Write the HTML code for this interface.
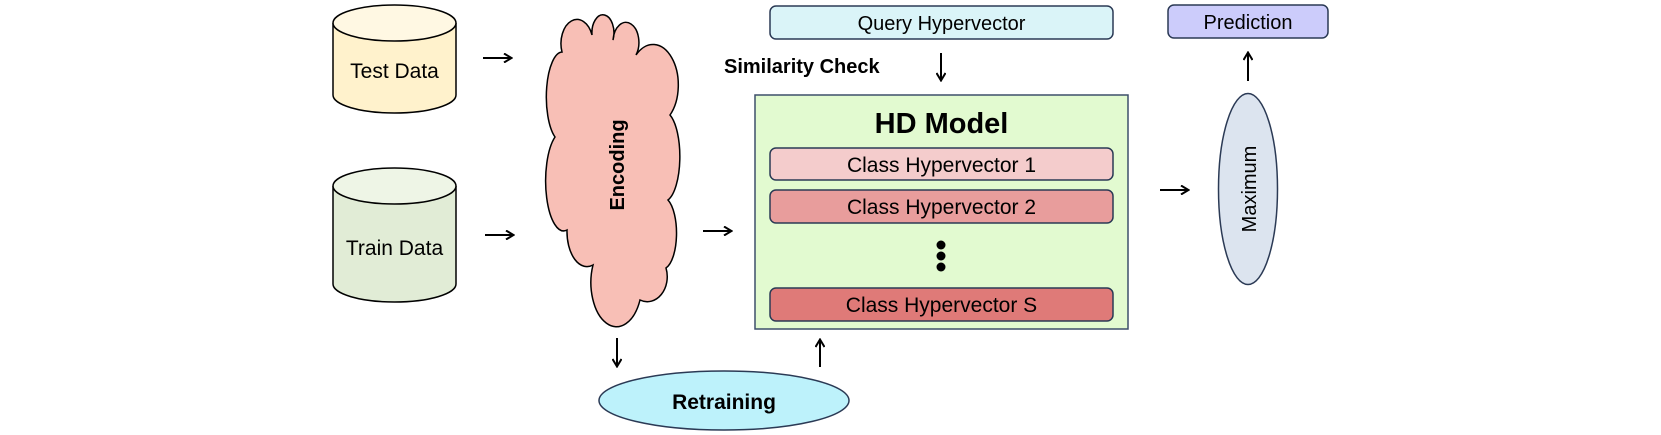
<!DOCTYPE html>
<html><head><meta charset="utf-8"><style>
html,body{margin:0;padding:0;background:#fff;}
svg{display:block;}
text{font-family:"Liberation Sans",Arial,sans-serif;}
</style></head><body>
<svg width="1661" height="435" viewBox="0 0 1661 435" xmlns="http://www.w3.org/2000/svg">
<defs>
<marker id="ah" markerWidth="10" markerHeight="10" refX="8" refY="5" orient="auto" markerUnits="userSpaceOnUse">
<path d="M1,0.5 L8.5,5 L1,9.5" fill="none" stroke="#000" stroke-width="2"/>
</marker>
</defs>
<path d="M333,23 L333,95 A61.5,18 0 0 0 456,95 L456,23" fill="#fff2cc" stroke="#000" stroke-width="1.5"/>
<ellipse cx="394.5" cy="23" rx="61.5" ry="18" fill="#fff8e3" stroke="#000" stroke-width="1.5"/>
<text x="394.5" y="78" font-size="21" text-anchor="middle">Test Data</text>
<path d="M333,186 L333,284 A61.5,18 0 0 0 456,284 L456,186" fill="#e1ecd6" stroke="#000" stroke-width="1.5"/>
<ellipse cx="394.5" cy="186" rx="61.5" ry="18" fill="#eef5e6" stroke="#000" stroke-width="1.5"/>
<text x="394.5" y="255" font-size="21" text-anchor="middle">Train Data</text>
<g stroke="#000" stroke-width="2" fill="none" marker-end="url(#ah)">
<line x1="483" y1="58" x2="511" y2="58"/>
<line x1="485" y1="235" x2="513" y2="235"/>
<line x1="703" y1="231" x2="731" y2="231"/>
<line x1="941" y1="53" x2="941" y2="80"/>
<line x1="617" y1="338" x2="617" y2="366"/>
<line x1="820" y1="367" x2="820" y2="340"/>
<line x1="1160" y1="190" x2="1188" y2="190"/>
<line x1="1248" y1="81" x2="1248" y2="53"/>
</g>
<path d="M562,52 A16 24 0 1 1 592,35 A11 18 0 1 1 613,40 A13 20 0 1 1 636,55 A25 40 0 0 1 670,115 A16 45 0 0 1 668,200 A14 36 0 0 1 666,268 A20 25 0 0 1 640,300 A22 38 0 1 1 593,265 A20 35 0 0 1 567,230 A18 50 0 0 1 555,137 A16 45 0 0 1 562,52 Z" fill="#f8bfb6" stroke="#000" stroke-width="1.5"/>
<text transform="translate(624,165) rotate(-90)" font-size="20" font-weight="bold" text-anchor="middle">Encoding</text>
<rect x="770" y="6" width="343" height="33" rx="6" fill="#daf4f8" stroke="#2b3a55" stroke-width="1.5"/>
<text x="941.5" y="30" font-size="20" text-anchor="middle">Query Hypervector</text>
<text x="724" y="73" font-size="20" font-weight="bold">Similarity Check</text>
<rect x="755" y="95" width="373" height="234" fill="#e2fad0" stroke="#3d4f6a" stroke-width="1.5"/>
<text x="941.5" y="133" font-size="29" font-weight="bold" text-anchor="middle">HD Model</text>
<rect x="770" y="148" width="343" height="32" rx="6" fill="#f4cccc" stroke="#2b3a55" stroke-width="1.5"/>
<text x="941.5" y="172" font-size="21" text-anchor="middle">Class Hypervector 1</text>
<rect x="770" y="190" width="343" height="33" rx="6" fill="#e89d9c" stroke="#2b3a55" stroke-width="1.5"/>
<text x="941.5" y="214" font-size="21" text-anchor="middle">Class Hypervector 2</text>
<circle cx="941" cy="245" r="4.5"/><circle cx="941" cy="256" r="4.5"/><circle cx="941" cy="267" r="4.5"/>
<rect x="770" y="288" width="343" height="33" rx="6" fill="#df7a78" stroke="#2b3a55" stroke-width="1.5"/>
<text x="941.5" y="312" font-size="21" text-anchor="middle">Class Hypervector S</text>
<ellipse cx="1248" cy="189" rx="29.5" ry="95.5" fill="#dce4ef" stroke="#2b3a55" stroke-width="1.5"/>
<text transform="translate(1256,189) rotate(-90)" font-size="20" text-anchor="middle">Maximum</text>
<rect x="1168" y="5" width="160" height="33" rx="6" fill="#ccccfb" stroke="#2b3a55" stroke-width="1.5"/>
<text x="1248" y="29" font-size="20" text-anchor="middle">Prediction</text>
<ellipse cx="724" cy="400.5" rx="125" ry="29.5" fill="#bdf2fb" stroke="#2b3a55" stroke-width="1.5"/>
<text x="724" y="409" font-size="21" font-weight="bold" text-anchor="middle">Retraining</text>
</svg>
</body></html>
